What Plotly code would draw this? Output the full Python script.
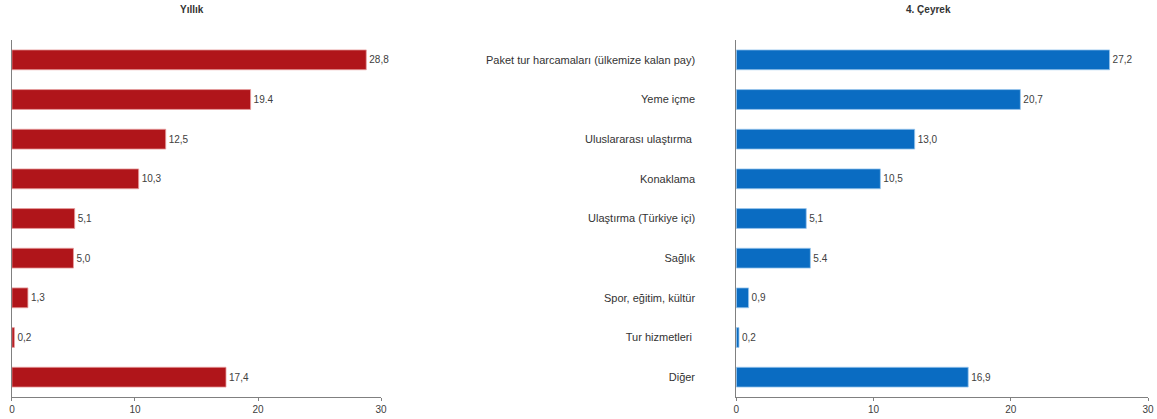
import plotly.graph_objects as go

categories = [
    "Paket tur harcamaları (ülkemize kalan pay)",
    "Yeme içme",
    "Uluslararası ulaştırma ",
    "Konaklama",
    "Ulaştırma (Türkiye içi)",
    "Sağlık",
    "Spor, eğitim, kültür",
    "Tur hizmetleri ",
    "Diğer",
]
yearly_values = [28.8, 19.4, 12.5, 10.3, 5.1, 5.0, 1.3, 0.2, 17.4]
yearly_labels = ["28,8", "19.4", "12,5", "10,3", "5,1", "5,0", "1,3", "0,2", "17,4"]
quarter_values = [27.2, 20.7, 13.0, 10.5, 5.1, 5.4, 0.9, 0.2, 16.9]
quarter_labels = ["27,2", "20,7", "13,0", "10,5", "5,1", "5.4", "0,9", "0,2", "16,9"]
x_ticks = [0, 10, 20, 30]
titles = ["Yıllık", "4. Çeyrek"]

FONT = "Liberation Sans, Arial, sans-serif"
RED = "#B0151A"
BLUE = "#0A6CC2"

W, H = 1157, 419

fig = go.Figure()
fig.add_trace(go.Bar(
    y=categories, x=yearly_values, orientation="h",
    text=yearly_labels, textposition="outside", cliponaxis=False,
    textfont=dict(size=10, color="#404040", family=FONT),
    marker=dict(color=RED, line=dict(color="#E8A0A0", width=0.8)),
    xaxis="x", yaxis="y", showlegend=False,
))
fig.add_trace(go.Bar(
    y=categories, x=quarter_values, orientation="h",
    text=quarter_labels, textposition="outside", cliponaxis=False,
    textfont=dict(size=10, color="#404040", family=FONT),
    marker=dict(color=BLUE, line=dict(color="#9CC8EE", width=0.8)),
    xaxis="x2", yaxis="y2", showlegend=False,
))

ytop = 1 - 40 / H
ybot = 1 - 397 / H

xcommon = dict(range=[0, 30], tickvals=x_ticks, showgrid=False, zeroline=False,
               showline=True, linecolor="#808080", linewidth=1,
               ticks="outside", ticklen=3, tickcolor="#808080",
               tickfont=dict(size=10, color="#404040", family=FONT))
ycommon = dict(autorange="reversed", showgrid=False, zeroline=False,
               showline=True, linecolor="#808080", linewidth=1, ticks="")

fig.update_layout(
    width=W, height=H,
    margin=dict(l=0, r=0, t=0, b=0),
    paper_bgcolor="white", plot_bgcolor="white",
    bargap=0.5,
    font=dict(family=FONT),
    xaxis=dict(domain=[9 / W, 381 / W], anchor="y", **xcommon),
    yaxis=dict(domain=[ybot, ytop], anchor="x", showticklabels=False, **ycommon),
    xaxis2=dict(domain=[739 / W, 1154 / W], anchor="y2", **xcommon),
    yaxis2=dict(domain=[ybot, ytop], anchor="x2", showticklabels=True,
                ticklabelstandoff=38,
                tickfont=dict(size=11, color="#333333", family=FONT), **ycommon),
    annotations=[
        dict(text="<b>" + titles[0] + "</b>", x=190 / W, y=1 - 9 / H,
             xref="paper", yref="paper", showarrow=False,
             xanchor="center", yanchor="middle",
             font=dict(size=10, color="#333333", family=FONT)),
        dict(text="<b>" + titles[1] + "</b>", x=933 / W, y=1 - 9 / H,
             xref="paper", yref="paper", showarrow=False,
             xanchor="center", yanchor="middle",
             font=dict(size=10, color="#333333", family=FONT)),
    ],
)

fig.write_html(
    "out.html",
    config={"displayModeBar": False},
    post_script="document.body.style.margin='0';document.body.style.overflow='hidden';",
)
